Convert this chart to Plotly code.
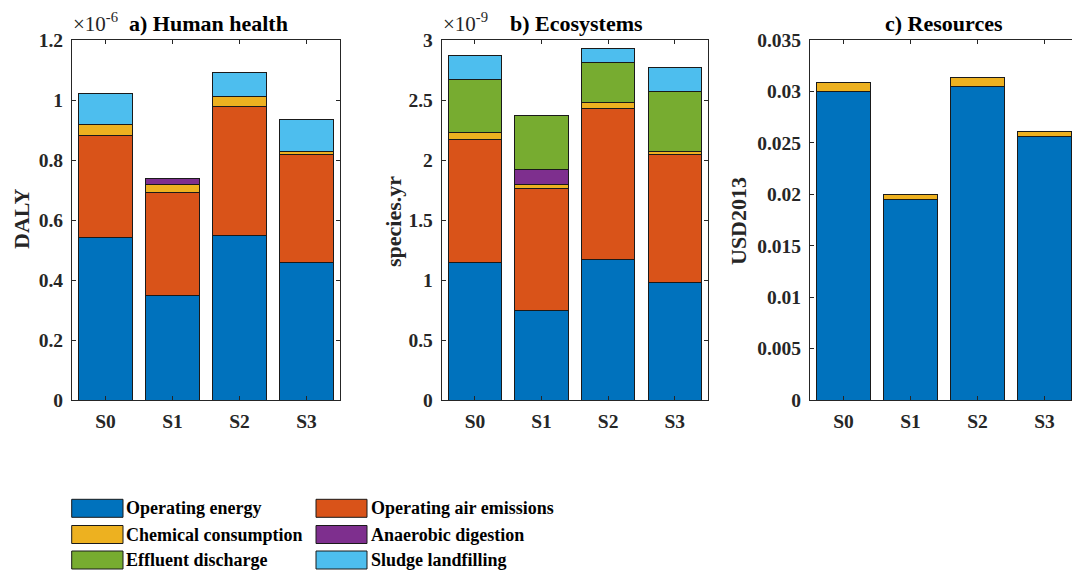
import plotly.graph_objects as go

# ---------------- data ----------------
scenarios = ["S0", "S1", "S2", "S3"]
categories = ["Operating energy", "Operating air emissions", "Chemical consumption",
              "Anaerobic digestion", "Effluent discharge", "Sludge landfilling"]
colors = ["#0072BD", "#D95319", "#EDB120", "#7E2F8E", "#77AC30", "#4DBEEE"]

# a) Human health, DALY (x 1e-6)
hh_energy = [0.541, 0.350, 0.550, 0.459]
hh_air = [0.342, 0.342, 0.428, 0.361]
hh_chem = [0.034, 0.025, 0.033, 0.008]
hh_ad = [0.0, 0.022, 0.0, 0.0]
hh_effluent = [0.0, 0.0, 0.0, 0.0]
hh_sludge = [0.105, 0.0, 0.081, 0.108]

# b) Ecosystems, species.yr (x 1e-9)
eco_energy = [1.147, 0.750, 1.172, 0.981]
eco_air = [1.028, 1.014, 1.258, 1.061]
eco_chem = [0.053, 0.033, 0.053, 0.033]
eco_ad = [0.0, 0.125, 0.0, 0.0]
eco_effluent = [0.447, 0.447, 0.331, 0.494]
eco_sludge = [0.192, 0.0, 0.117, 0.200]

# c) Resources, USD2013
res_energy = [0.02997, 0.01951, 0.03046, 0.0256]
res_chem = [0.00088, 0.00045, 0.00088, 0.00055]
res_ad = [0.0, 0.0, 0.0, 0.0]
res_effluent = [0.0, 0.0, 0.0, 0.0]
res_air = [0.0, 0.0, 0.0, 0.0]
res_sludge = [0.0, 0.0, 0.0, 0.0]

hh_ticks = [0, 0.2, 0.4, 0.6, 0.8, 1.0, 1.2]
eco_ticks = [0, 0.5, 1.0, 1.5, 2.0, 2.5, 3.0]
res_ticks = [0, 0.005, 0.01, 0.015, 0.02, 0.025, 0.03, 0.035]
res_ticktext = ["0", "0.005", "0.01", "0.015", "0.02", "0.025", "0.03", "0.035"]

panels = [
    ("x", "y", [hh_energy, hh_air, hh_chem, hh_ad, hh_effluent, hh_sludge]),
    ("x2", "y2", [eco_energy, eco_air, eco_chem, eco_ad, eco_effluent, eco_sludge]),
    ("x3", "y3", [res_energy, res_air, res_chem, res_ad, res_effluent, res_sludge]),
]

# ---------------- figure ----------------
W, H = 1072, 571
FONT = "Liberation Serif, Times New Roman, serif"
AXC = "#262626"

fig = go.Figure()
for xa, ya, series in panels:
    for name, vals, col in zip(categories, series, colors):
        fig.add_trace(go.Bar(
            x=scenarios, y=vals, name=name, xaxis=xa, yaxis=ya,
            marker=dict(color=col, line=dict(color="#1a1a1a", width=1)),
            showlegend=False,
        ))

def px_x(p):
    return p / W

def px_y(p):
    return 1 - p / H

ydom = [px_y(400), px_y(40)]
xdoms = [[px_x(72), px_x(340)], [px_x(441.7), px_x(708)], [px_x(810), 1.0]]

common_x = dict(
    showline=True, linecolor=AXC, linewidth=1, ticks="inside", ticklen=4,
    tickcolor=AXC, showgrid=False, zeroline=False, automargin=False,
    tickfont=dict(family=FONT, size=19.5, color=AXC, weight="bold"),
    ticklabelstandoff=4, fixedrange=True,
)
common_y = dict(
    showline=True, linecolor=AXC, linewidth=1, ticks="inside", ticklen=4,
    tickcolor=AXC, showgrid=False, zeroline=False, automargin=False,
    tickfont=dict(family=FONT, size=19.5, color=AXC, weight="bold"),
    ticklabelstandoff=4, fixedrange=True,
)

fig.update_layout(
    width=W, height=H,
    margin=dict(l=0, r=0, t=0, b=0, pad=0, autoexpand=False),
    paper_bgcolor="white", plot_bgcolor="white",
    barmode="stack", bargap=0.2,
    showlegend=False,
    font=dict(family=FONT, color=AXC),
    xaxis=dict(domain=xdoms[0], anchor="y", range=[-0.5, 3.5], mirror="ticks", **common_x),
    yaxis=dict(domain=ydom, anchor="x", range=[0, 1.2], tickvals=hh_ticks,
               ticktext=[f"{v:g}" for v in hh_ticks], mirror="ticks", **common_y),
    xaxis2=dict(domain=xdoms[1], anchor="y2", range=[-0.5, 3.5], mirror="ticks", **common_x),
    yaxis2=dict(domain=ydom, anchor="x2", range=[0, 3.0], tickvals=eco_ticks,
                ticktext=[f"{v:g}" for v in eco_ticks], mirror="ticks", **common_y),
    xaxis3=dict(domain=xdoms[2], anchor="y3", range=[-0.5, 3.5 - 6 / 67], mirror="ticks", **common_x),
    yaxis3=dict(domain=ydom, anchor="x3", range=[0, 0.035], tickvals=res_ticks,
                ticktext=res_ticktext, mirror=False, **common_y),
)

ann = []
# titles
titles = [("a) Human health", 208), ("b) Ecosystems", 576), ("c) Resources", 944)]
for t, cx in titles:
    ann.append(dict(text=t, x=px_x(cx), y=px_y(24), xref="paper", yref="paper",
                    xanchor="center", yanchor="middle", showarrow=False,
                    font=dict(family=FONT, size=22, color="black", weight="bold")))
# exponent labels
for t, lx in [("×10<sup>-6</sup>", 71), ("×10<sup>-9</sup>", 441)]:
    ann.append(dict(text=t, x=px_x(lx), y=px_y(23), xref="paper", yref="paper",
                    xanchor="left", yanchor="middle", showarrow=False,
                    font=dict(family=FONT, size=21, color=AXC)))
# y-axis titles
for t, cx, cy in [("DALY", 21, 219), ("species.yr", 393, 222), ("USD2013", 739, 221)]:
    ann.append(dict(text=t, x=px_x(cx), y=px_y(cy), xref="paper", yref="paper",
                    xanchor="center", yanchor="middle", showarrow=False, textangle=-90,
                    font=dict(family=FONT, size=22, color=AXC, weight="bold")))

# custom legend (patches + text)
shapes = []
rows = [508.3, 534.5, 560.0]
cols = [(71.7, 123.0, 124.0), (316.0, 367.0, 369.0)]
for i, (name, col) in enumerate(zip(categories, colors)):
    r = i // 2
    c = i % 2
    x0, x1, tx = cols[c]
    cy = rows[r]
    shapes.append(dict(type="rect", xref="paper", yref="paper",
                       x0=px_x(x0), x1=px_x(x1), y0=px_y(cy + 9), y1=px_y(cy - 9),
                       fillcolor=col, line=dict(color="#1a1a1a", width=1)))
    ann.append(dict(text=name, x=px_x(tx), y=px_y(cy), xref="paper", yref="paper",
                    xanchor="left", yanchor="middle", showarrow=False,
                    font=dict(family=FONT, size=18, color="black", weight="bold")))

fig.update_layout(annotations=ann, shapes=shapes)
fig.write_html("out.html", config={"displayModeBar": False})
